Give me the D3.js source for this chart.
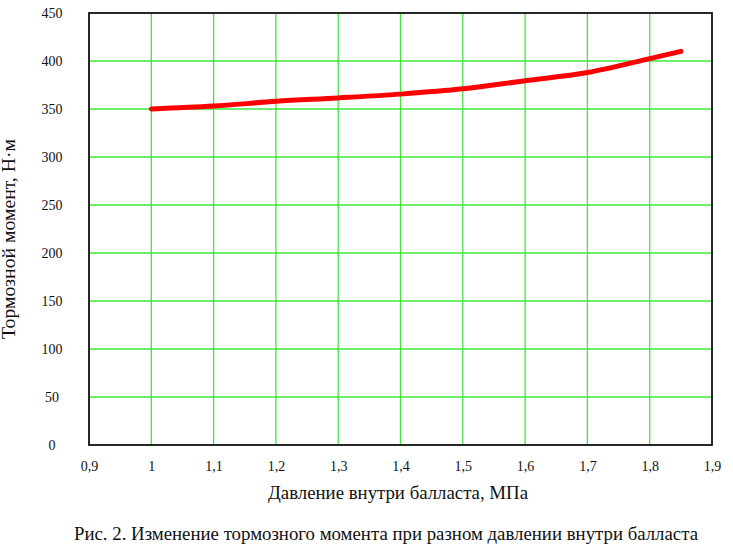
<!DOCTYPE html>
<html>
<head>
<meta charset="utf-8">
<script src="https://cdn.jsdelivr.net/npm/d3@7"></script>
<style>
  html, body { margin: 0; padding: 0; background: #fff; }
  svg { display: block; }
  text { font-family: "Liberation Serif", "Times New Roman", serif; fill: #111; }
</style>
</head>
<body>
<svg id="chart" width="733" height="546"></svg>
<script>
// Data
const pressure = [1.0, 1.1, 1.2, 1.3, 1.4, 1.5, 1.6, 1.7, 1.8, 1.85];
const torque   = [350, 353, 358, 361.5, 365.5, 371, 379.5, 388, 402.5, 410];
const xTicks = [0.9, 1.0, 1.1, 1.2, 1.3, 1.4, 1.5, 1.6, 1.7, 1.8, 1.9];
const yTicks = [0, 50, 100, 150, 200, 250, 300, 350, 400, 450];
const xTitle = "Давление внутри балласта, МПа";
const yTitle = "Тормозной момент, Н·м";
const caption = "Рис. 2. Изменение тормозного момента при разном давлении внутри балласта";

const svg = d3.select("#chart");
const pL = 89, pR = 712, pT = 13, pB = 445;

const x = d3.scaleLinear().domain([0.9, 1.9]).range([pL, pR]);
const y = d3.scaleLinear().domain([0, 450]).range([pB, pT]);

const fmt = d => d3.format(".1f")(d).replace(/\.0$/, "").replace(".", ",");

// Grid
const grid = svg.append("g");
grid.selectAll("line.v").data(xTicks.slice(1, -1)).join("line")
  .attr("class", "v")
  .attr("x1", d => x(d)).attr("x2", d => x(d))
  .attr("y1", pT).attr("y2", pB)
  .attr("stroke", "#3ee83e").attr("stroke-width", 1.3);
grid.selectAll("line.h").data(yTicks.slice(1, -1)).join("line")
  .attr("class", "h")
  .attr("x1", pL).attr("x2", pR)
  .attr("y1", d => y(d)).attr("y2", d => y(d))
  .attr("stroke", "#3ee83e").attr("stroke-width", 1.3);

// Frame
svg.append("rect")
  .attr("x", pL).attr("y", pT)
  .attr("width", pR - pL).attr("height", pB - pT)
  .attr("fill", "none").attr("stroke", "#111").attr("stroke-width", 1.8);

// Axes (labels only)
const xAxis = d3.axisBottom(x).tickValues(xTicks).tickFormat(fmt).tickSize(0).tickPadding(0);
const gx = svg.append("g").attr("transform", `translate(0,${pB})`).call(xAxis);
gx.select(".domain").remove();
gx.selectAll("text")
  .attr("y", 22).attr("dy", "0.32em")
  .style("font-size", "14px").style("font-family", "Liberation Serif").style("fill", "#111");

const yAxis = d3.axisLeft(y).tickValues(yTicks).tickFormat(d => String(d)).tickSize(0).tickPadding(0);
const gy = svg.append("g").attr("transform", `translate(${pL},0)`).call(yAxis);
gy.select(".domain").remove();
gy.selectAll("text")
  .attr("x", 52 - pL).attr("text-anchor", "middle").attr("dy", "0.32em")
  .style("font-size", "14px").style("font-family", "Liberation Serif").style("fill", "#111");

// Line
const line = d3.line()
  .x((d, i) => x(pressure[i]))
  .y(d => y(d))
  .curve(d3.curveMonotoneX);
svg.append("path")
  .datum(torque)
  .attr("d", line)
  .attr("fill", "none")
  .attr("stroke", "#ff0000")
  .attr("stroke-width", 5)
  .attr("stroke-linecap", "round")
  .attr("stroke-linejoin", "round");

// Titles
svg.append("text")
  .attr("x", 398).attr("y", 499)
  .attr("text-anchor", "middle")
  .attr("textLength", 260).attr("lengthAdjust", "spacingAndGlyphs")
  .style("font-size", "18px")
  .text(xTitle);

svg.append("text")
  .attr("transform", "translate(15,239) rotate(-90)")
  .attr("text-anchor", "middle")
  .attr("textLength", 200).attr("lengthAdjust", "spacingAndGlyphs")
  .style("font-size", "18px")
  .text(yTitle);

svg.append("text")
  .attr("x", 386).attr("y", 540)
  .attr("text-anchor", "middle")
  .attr("textLength", 624).attr("lengthAdjust", "spacingAndGlyphs")
  .style("font-size", "18px")
  .text(caption);
</script>
</body>
</html>
